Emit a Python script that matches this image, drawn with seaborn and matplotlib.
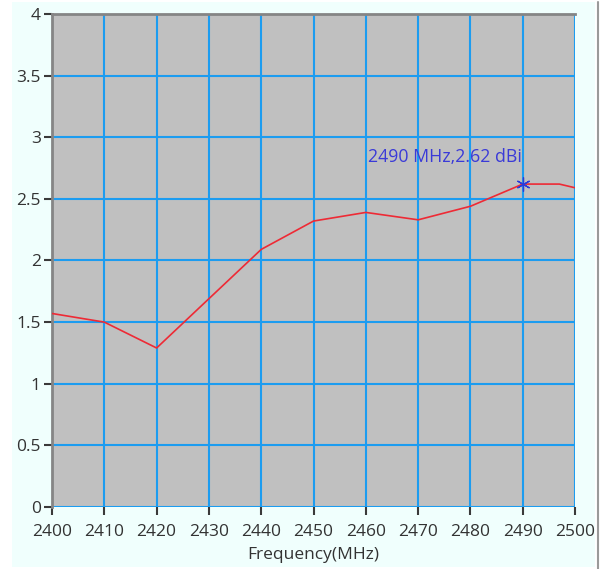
import numpy as np
import pandas as pd
import matplotlib.pyplot as plt
import matplotlib.patches as mpatches
import seaborn as sns

freq = [2400, 2410, 2420, 2430, 2440, 2450, 2460, 2470, 2480, 2490, 2497, 2500]
gain = [1.57, 1.50, 1.29, 1.69, 2.09, 2.32, 2.39, 2.33, 2.44, 2.62, 2.62, 2.59]
peak_freq = 2490
peak_gain = 2.62
xticks = list(range(2400, 2501, 10))
yticks = [0, 0.5, 1, 1.5, 2, 2.5, 3, 3.5, 4]
ytick_labels = ['0', '0.5', '1', '1.5', '2', '2.5', '3', '3.5', '4']

sns.set_style('white')
plt.rcParams['font.family'] = ['Open Sans', 'DejaVu Sans']
plt.rcParams['xtick.bottom'] = True
plt.rcParams['ytick.left'] = True

data = pd.DataFrame({'freq': freq, 'gain': gain})

fig = plt.figure(figsize=(6.04, 5.69), dpi=100)
fig.patch.set_facecolor('white')
# light panel behind the chart
fig.patches.append(mpatches.Rectangle((0.0199, 0.0035), 0.965, 0.993,
                                      transform=fig.transFigure, facecolor='#f0fffd',
                                      edgecolor='none', zorder=-10))
fig.lines.append(plt.Line2D([0.9905, 0.9905], [0.0, 0.996], transform=fig.transFigure,
                            color='#9a9a9a', lw=1.5))

ax = fig.add_axes([0.0861, 0.109, 0.866, 0.8664])
ax.set_facecolor('#c0c0c0')

sns.lineplot(data=data, x='freq', y='gain', color='#ee2a35', lw=1.2, ax=ax, zorder=3)
ax.plot([peak_freq], [peak_gain], marker=(6, 2, 0), ms=10, mew=0.9,
        color='#2b3bd8', zorder=4)
ax.text(2460.4, 2.84, f'{peak_freq} MHz,{peak_gain} dBi', color='#3a3ad8',
        fontsize=12.8, va='center', ha='left', zorder=5)

ax.set_xlim(2400, 2500)
ax.set_ylim(0, 4)
ax.set_xticks(xticks)
ax.set_yticks(yticks)
ax.set_yticklabels(ytick_labels)
ax.grid(True, color='#1c9cf0', lw=1.5)
ax.set_axisbelow(True)

for side in ['right', 'bottom']:
    ax.spines[side].set_visible(False)
for side in ['left', 'top']:
    ax.spines[side].set_color('#858585')
    ax.spines[side].set_linewidth(2)

ax.tick_params(axis='both', which='major', direction='out', length=6, width=1.5,
               color='#3a3a3a', labelsize=12.5, labelcolor='#333333')
ax.tick_params(axis='x', pad=6)
ax.tick_params(axis='y', pad=2)
ax.set_xlabel('Frequency(MHz)', fontsize=12.5, color='#333333', labelpad=5)
ax.set_ylabel('')

fig.savefig('out.png', dpi=100, facecolor=fig.get_facecolor())
